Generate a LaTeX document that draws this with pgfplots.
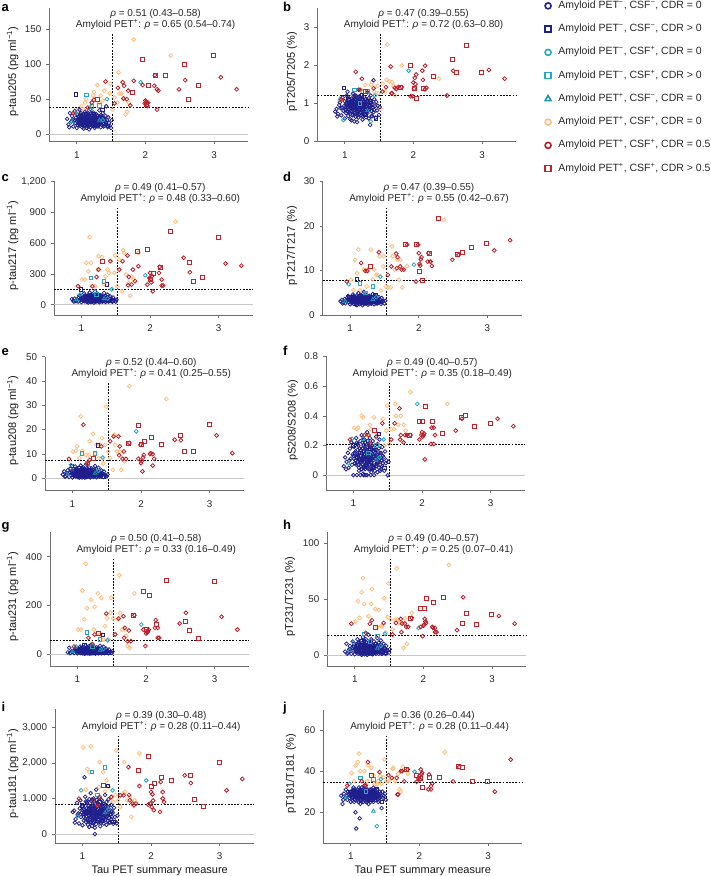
\documentclass[border=0pt]{standalone}
\usepackage{fontspec}
\setmainfont{Liberation Sans}
\usepackage{pgfplots}
\usepackage{pgfplotstable}
\pgfplotsset{compat=1.18}

\definecolor{cnavy}{RGB}{30,30,140}
\definecolor{cteal}{RGB}{40,165,192}
\definecolor{ctri}{RGB}{30,150,180}
\definecolor{cpeach}{RGB}{253,190,128}
\definecolor{credc}{RGB}{180,30,40}
\definecolor{credsq}{RGB}{200,32,40}
\definecolor{caxis}{RGB}{110,110,110}

% G1: Amyloid PET-, CSF-, CDR = 0
\pgfplotstableread{
x a b c d e f g h i j
0.86 22 0.78 55 3.1 1.5 0.06 6 3 620 28
0.88 14 0.85 40 3.4 2.8 0.12 25 10 660 24
0.90 30 0.72 60 2.8 0.8 0.09 4 2 420 29
0.92 18 0.95 35 3.6 1.9 0.15 12 5 880 27
0.93 26 1.02 48 2.6 3.2 0.05 9 8 540 31
0.95 11 0.68 30 3.0 0.5 0.18 3 1 300 26
0.96 20 0.88 70 3.9 2.2 0.11 15 6 720 30
0.97 33 1.15 90 4.3 4.0 0.22 22 12 950 29
0.98 16 0.80 45 2.9 1.2 0.07 7 4 480 27
0.99 24 0.92 58 3.3 2.5 0.14 11 7 610 28
1.00 9 0.60 25 2.4 0.3 0.00 2 0.5 250 25
1.00 19 1.05 52 3.5 1.7 0.13 14 5 680 29
1.01 28 0.83 66 3.8 3.0 0.19 20 9 790 30
1.02 13 0.74 38 2.7 0.9 0.08 6 3 380 26
1.03 22 1.20 75 4.1 2.1 0.16 18 8 1600 31
1.03 17 0.97 44 3.2 1.4 0.10 8 4 560 27
1.04 35 1.30 110 4.6 4.8 0.25 30 14 1050 32
1.05 12 0.66 32 2.5 0.6 0.00 3 1 340 25
1.05 21 0.89 56 3.4 2.0 0.12 13 6 640 28
1.06 25 1.08 62 3.7 2.6 0.17 16 7 720 30
1.07 15 0.76 41 2.9 1.1 0.07 5 2 420 20
1.07 27 0.94 80 3.6 3.5 0.20 24 10 870 29
1.08 10 0.58 28 2.3 0.4 0.03 2 1 260 12
1.08 19 1.00 50 3.3 1.8 0.11 10 5 590 28
1.09 23 0.86 64 3.9 2.4 0.15 17 8 700 27
1.10 8 0.55 22 2.2 0.2 0.00 1 0 200 26
1.10 17 0.91 47 3.1 1.5 0.09 9 4 520 29
1.10 29 1.12 95 4.4 4.2 0.23 28 13 980 31
1.11 14 0.79 36 2.8 0.8 0.06 4 2 400 27
1.11 21 0.98 58 3.5 2.1 0.13 14 6 650 28
1.12 32 1.25 120 4.9 5.2 0.27 35 16 1150 32
1.12 12 0.70 31 2.6 0.7 0.04 3 1 330 25
1.13 18 0.88 53 3.2 1.6 0.10 11 5 560 17
1.13 24 1.04 69 3.8 2.9 0.18 19 9 760 30
1.14 9 0.52 26 2.4 0.3 0.01 2 0.5 230 24
1.14 20 0.93 49 3.4 1.9 0.12 12 6 610 28
1.15 26 1.10 77 4.0 3.3 0.20 21 10 830 29
1.15 15 0.81 40 3.0 1.2 0.00 6 3 450 26
1.16 22 0.96 60 3.6 2.3 0.14 15 7 680 27
1.16 11 0.64 33 2.7 0.6 0.05 3 2 310 28
1.17 28 1.18 88 4.2 3.8 0.22 26 11 920 31
1.17 17 0.84 46 3.1 1.4 0.09 8 4 500 29
1.18 21 0.99 57 3.5 2.0 0.13 13 6 0 27
1.18 13 0.73 37 2.8 0.9 0.06 5 2 380 25
1.19 25 1.06 72 3.9 2.8 0.17 18 8 740 30
1.19 19 0.90 51 3.3 1.7 0.11 10 5 570 28
1.20 36 1.35 130 5.2 5.8 0.29 38 18 1250 33
1.20 10 0.62 29 2.5 0.4 0.00 2 1 280 26
1.21 23 0.95 63 3.7 2.5 0.15 16 7 690 29
1.21 16 0.82 43 3.0 1.3 0.08 7 3 470 27
1.22 20 1.02 55 3.4 1.9 0.12 12 6 620 28
1.22 27 1.14 84 4.1 3.6 0.21 23 11 880 30
1.23 14 0.75 39 2.9 1.0 0.07 5 2 410 26
1.23 18 0.87 48 3.2 1.5 0.10 9 4 540 29
1.24 31 1.22 100 4.5 4.5 0.25 31 14 1020 31
1.24 12 0.68 34 2.6 0.6 0.04 3 1 330 25
1.25 22 0.97 61 3.6 2.2 0.14 15 7 660 28
1.25 17 0.85 45 3.1 1.4 0.00 8 4 500 27
1.26 25 1.09 74 3.9 3.0 0.18 19 9 780 30
1.26 9 0.57 24 2.3 0.3 0.02 1 0.5 220 24
1.27 20 0.93 54 3.4 1.8 0.11 11 5 590 28
1.27 15 0.78 41 2.9 1.1 0.07 6 3 440 26
1.28 29 1.16 92 4.3 4.0 0.23 27 12 950 31
1.28 19 0.90 50 3.3 1.6 0.10 10 5 560 29
1.29 23 1.01 66 3.7 2.6 0.16 17 8 710 30
1.29 13 0.71 35 2.7 0.8 0.05 4 2 360 25
1.30 21 0.96 58 3.5 2.1 0.13 13 6 640 28
1.30 16 0.83 44 3.0 1.2 0.00 7 3 480 27
1.31 26 1.11 79 4.0 3.4 0.20 22 10 850 29
1.31 11 0.63 30 2.5 0.5 0.03 2 1 300 26
1.32 19 0.89 52 3.3 1.7 0.11 11 5 580 28
1.32 24 1.05 68 3.8 2.7 0.17 18 8 730 30
1.33 14 0.74 38 2.8 0.9 0.06 5 2 400 25
1.33 34 1.28 115 4.7 5.0 0.26 33 15 1100 32
1.34 18 0.86 47 3.2 1.5 0.09 9 4 530 28
1.34 22 0.98 60 3.6 2.3 0.14 15 7 670 29
1.35 10 0.60 27 2.4 0.4 0.02 2 1 260 27
1.35 27 1.13 86 4.2 3.7 0.21 24 11 900 31
1.36 17 0.84 45 3.1 1.4 0.09 8 4 510 26
1.36 21 0.94 57 3.5 2.0 0.12 12 6 620 28
1.37 13 0.43 36 2.7 0.8 0.05 4 2 370 29
1.37 25 1.07 73 3.9 2.9 0.18 19 9 770 30
1.38 19 0.91 51 3.3 1.8 0.11 10 5 570 27
1.38 30 1.20 98 4.4 4.3 0.24 29 13 980 31
1.39 15 0.79 42 2.9 1.2 0.07 6 3 450 28
1.40 22 0.99 62 3.6 2.4 0.15 16 7 690 29
1.40 12 0.66 32 2.6 0.6 0.04 3 1 320 25
1.41 18 0.88 49 3.2 1.6 0.10 9 5 550 28
1.42 26 1.60 80 4.0 3.2 0.19 21 10 820 30
1.42 14 0.76 39 2.8 1.0 0.06 5 2 420 27
1.43 40 1.10 60 3.5 2.2 0.13 14 6 640 29
1.44 20 0.92 55 3.4 1.9 0.12 12 6 600 28
1.45 10 0.62 28 2.5 0.5 0.03 2 1 290 22
1.46 24 1.03 70 3.8 2.7 0.16 18 8 740 30
1.47 16 0.81 43 3.0 1.3 0.08 7 3 480 27
1.48 12 0.93 46 3.1 1.0 0.10 8 4 350 28
1.50 9 0.69 30 2.6 0.8 0.00 4 2 300 29
1.51 20 0.90 48 3.2 1.5 0.09 10 5 520 26
1.13 20 0.95 52 3.3 1.7 0.11 11 5 590 28
1.09 18 0.87 46 3.1 1.5 0.09 9 4 520 27
1.19 15 0.80 42 2.9 1.1 0.07 6 3 460 29
1.21 30 1.17 96 4.3 4.1 0.23 28 12 960 31
1.06 22 0.99 58 3.5 2.0 0.13 13 6 630 28
1.16 27 1.08 76 3.9 3.1 0.19 20 9 800 30
1.27 11 0.65 31 2.6 0.6 0.04 3 1 320 26
1.02 16 0.82 44 3.0 1.3 0.08 7 3 480 27
1.24 18 0.89 50 3.3 1.6 0.10 10 5 560 29
1.31 23 1.00 64 3.7 2.5 0.15 16 7 700 30
1.14 30 1.19 94 4.4 4.2 0.24 27 13 970 31
1.18 7 0.50 20 2.2 0.2 0.00 1 0 180 25
1.01 18 0.90 50 3.3 1.6 0.11 10 5 560 28
1.02 25 1.00 65 3.6 2.4 0.15 16 7 700 29
1.04 14 0.78 40 2.9 1.0 0.07 5 3 430 27
1.04 20 0.95 55 3.4 1.9 0.12 12 6 620 30
1.06 30 1.10 85 4.1 3.6 0.21 24 11 900 31
1.06 16 0.84 46 3.1 1.3 0.09 8 4 500 26
1.07 22 0.98 60 3.5 2.2 0.14 14 7 660 28
1.08 13 0.72 36 2.8 0.8 0.05 4 2 380 27
1.09 27 1.05 72 3.8 3.0 0.18 20 9 800 30
1.09 17 0.88 48 3.2 1.5 0.10 9 4 540 29
1.10 21 0.96 57 3.4 2.0 0.13 13 6 640 28
1.11 12 0.68 33 2.7 0.7 0.04 3 1 350 25
1.11 25 1.06 70 3.8 2.8 0.17 18 8 760 30
1.12 18 0.90 50 3.3 1.6 0.10 10 5 570 27
1.12 23 1.00 62 3.6 2.3 0.15 15 7 690 29
1.13 15 0.80 42 3.0 1.1 0.07 6 3 460 28
1.13 29 1.12 90 4.2 3.9 0.22 26 12 930 31
1.14 19 0.92 52 3.3 1.7 0.11 11 5 590 28
1.14 24 1.02 66 3.7 2.6 0.16 17 8 720 30
1.15 13 0.75 37 2.8 0.9 0.06 5 2 410 26
1.15 20 0.94 55 3.4 1.9 0.12 12 6 620 29
1.16 17 0.86 46 3.1 1.4 0.09 8 4 520 27
1.16 31 1.20 100 4.5 4.4 0.24 30 14 1000 32
1.17 22 0.97 59 3.5 2.1 0.14 14 6 650 28
1.17 12 0.70 34 2.6 0.6 0.04 3 1 340 26
1.18 26 1.07 74 3.9 3.0 0.18 19 9 780 30
1.18 18 0.89 49 3.2 1.6 0.10 9 5 550 29
1.19 21 0.98 58 3.5 2.1 0.13 13 6 640 27
1.19 14 0.77 40 2.9 1.0 0.06 5 2 430 28
1.20 24 1.03 68 3.7 2.7 0.16 17 8 740 30
1.20 17 0.87 47 3.2 1.5 0.09 9 4 530 28
1.21 20 0.93 55 3.4 1.8 0.12 12 6 600 29
1.22 12 0.69 33 2.6 0.7 0.04 3 1 350 25
1.22 28 1.11 82 4.1 3.5 0.20 23 10 870 31
1.23 19 0.91 51 3.3 1.7 0.11 10 5 570 28
1.23 23 1.00 63 3.6 2.4 0.15 16 7 700 29
1.24 15 0.80 43 3.0 1.2 0.07 6 3 470 27
1.25 21 0.95 57 3.5 2.0 0.13 13 6 630 28
1.25 26 1.08 76 3.9 3.1 0.19 20 9 810 30
1.26 16 0.84 45 3.1 1.3 0.08 7 3 490 26
1.26 20 0.94 54 3.4 1.9 0.12 12 6 610 29
1.27 24 1.04 69 3.8 2.7 0.17 18 8 750 30
1.28 13 0.74 38 2.8 0.9 0.05 4 2 400 27
1.28 22 0.97 60 3.5 2.2 0.14 14 7 660 28
1.29 18 0.88 49 3.2 1.6 0.10 9 4 550 29
1.30 27 1.10 80 4.0 3.3 0.19 21 10 840 31
1.30 12 0.71 35 2.7 0.7 0.05 4 2 370 26
1.31 19 0.90 52 3.3 1.7 0.11 11 5 580 28
1.32 15 0.79 42 3.0 1.1 0.07 6 3 450 27
1.33 21 0.96 58 3.5 2.0 0.13 13 6 640 29
1.34 25 1.06 71 3.8 2.8 0.17 18 8 760 30
1.35 16 0.83 44 3.0 1.3 0.08 7 3 480 28
1.36 20 0.93 55 3.4 1.9 0.12 12 6 610 27
1.38 23 1.01 64 3.7 2.5 0.15 16 7 710 29
1.39 11 0.66 31 2.6 0.6 0.03 3 1 330 26
1.41 19 0.89 50 3.2 1.6 0.10 9 5 560 28
1.43 16 0.82 44 3.0 1.3 0.08 7 3 480 27
1.05 28 1.15 88 4.2 3.8 0.22 25 11 920 31
0.94 21 0.87 52 3.3 1.7 0.10 10 5 580 28
0.89 10 0.65 30 2.6 0.6 0.04 3 1 320 26
}\Gone

% G2: Amyloid PET-, CSF-, CDR > 0
\pgfplotstableread{
x a b c d e f g h i j
0.99 57 1.40 150 4.0 5.0 0.20 20 10 800 30
1.10 25 1.00 80 8.0 4.0 0.15 35 12 700 28
1.37 35 1.05 200 4.5 13.5 0.28 78 8 1350 31
1.20 20 0.90 60 3.5 2.0 0.10 10 4 500 27
1.30 15 0.70 50 3.0 1.5 0.08 8 3 450 26
1.05 22 1.10 70 3.8 3.0 0.12 12 6 600 29
1.45 12 0.60 40 3.0 0.5 0.05 5 2 350 25
1.25 28 1.20 90 4.2 3.5 0.18 18 7 900 30
}\Gtwo

% G3: Amyloid PET-, CSF+, CDR = 0
\pgfplotstableread{
x a b c d e f g h i j
1.93 74 1.85 287 11.3 19.3 0.48 121 24.2 1509 39.7
0.98 30 0.56 100 6.9 5.5 0.245 30 11.0 1230 33.8
1.44 50 1.20 150 8.6 8.5 0.24 56 19.0 1230 36.0
1.38 20 0.52 60 4.0 3.0 0.12 20 8.0 700 13.2
}\Gthree

% G4: Amyloid PET-, CSF+, CDR > 0
\pgfplotstableread{
x a b c d e f g h i j
1.14 56 1.35 261 7.1 10.2 0.245 89 19.0 1742 36.7
1.33 41 1.30 228 6.4 10.3 0.20 60 17.0 1880 36.0
1.22 40 1.00 100 5.0 6.0 0.15 30 12.0 1100 30.0
}\Gfour

% G5: Amyloid PET+, CSF-, CDR = 0
\pgfplotstableread{
x a b c d e f g h i j
1.33 20 0.80 60 3.5 2.0 0.10 15 6.0 600 20.5
0.93 18 1.11 50 3.0 1.5 0.08 10 4.0 500 27.0
}\Gfive

% G6: Amyloid PET+, CSF+, CDR = 0
\pgfplotstableread{
x a b c d e f g h i j
1.83 135 1.99 505 10.9 37.9 0.56 249 37.7 2273 38.7
2.37 112 1.64 809 21.4 32.6 0.48 nan 80.8 nan 49.3
1.61 88 1.61 532 15.4 17.9 0.48 324 77.8 2022 41.1
1.12 45 1.20 659 14.7 25.5 0.40 371 68.9 2469 48.5
1.49 72 1.26 480 13.2 29.5 0.47 231 64.1 2348 45.7
1.62 58 2.54 505 13.2 13.8 0.40 169 31.7 1183 41.6
1.30 70 1.48 466 14.7 18.2 0.39 249 41.3 1742 41.6
1.25 60 1.05 473 10.2 15.2 0.31 194 59.0 2022 42.8
1.07 40 0.95 408 12.4 13.1 0.32 261 33.2 1835 42.8
1.43 40 1.30 424 13.2 16.5 0.38 146 50.9 1044 37.6
1.35 55 1.09 277 10.2 13.8 0.28 231 40.4 1509 33.5
1.55 52 1.51 440 6.2 8.3 0.31 80 22.8 764 35.1
1.65 58 1.57 294 10.2 11.0 0.34 100 28.7 950 35.1
1.71 28 1.45 88 7.9 3.4 0.23 73 6.3 484 31.1
1.73 32 1.20 277 12.4 8.3 0.34 32 32.6 904 29.9
1.20 40 1.10 180 10.2 9.6 0.27 223 34.7 950 40.0
1.52 35 0.85 180 6.4 11.0 0.21 146 31.7 950 35.1
1.38 48 1.48 342 9.0 8.3 0.08 59 25.7 1323 33.5
1.10 35 1.00 326 9.4 8.3 0.21 142 56.3 1742 44.4
1.05 30 0.80 245 5.6 11.3 0.31 100 48.2 1249 35.1
1.76 45 1.40 245 6.2 6.9 0.30 25 9.9 950 42.1
1.40 62 1.55 310 9.0 13.8 0.14 114 25.7 950 35.1
1.59 45 1.30 130 6.2 3.4 0.31 142 31.7 1137 36.4
1.24 55 1.35 342 6.4 9.6 0.34 100 45.8 1323 35.1
1.14 50 1.20 408 5.6 11.3 0.39 188 45.8 1742 40.0
1.69 50 1.55 212 12.4 11.0 0.40 100 28.7 1044 38.7
1.48 58 1.45 310 10.9 13.8 0.30 169 34.0 1100 37.0
1.33 45 1.30 200 8.0 10.0 0.25 80 25.0 1200 38.0
1.01 35 1.10 245 7.9 11.0 0.32 100 30.0 2441 39.0
1.45 25 0.95 150 5.5 6.0 0.20 60 20.0 900 34.0
}\Gsix

% G7: Amyloid PET+, CSF+, CDR = 0.5
\pgfplotstableread{
x a b c d e f g h i j
3.10 81 1.87 401 14.5 17.6 0.38 153 35.0 1230 30.0
3.33 64 1.64 380 16.8 10.3 0.33 100 28.0 1550 45.6
2.49 64 1.20 457 12.4 15.8 0.30 125 22.2 1649 35.0
2.58 77 1.85 316 13.5 15.6 0.38 169 51.8 1435 42.0
2.14 84 1.61 369 13.9 10.3 0.32 139 24.3 1463 38.4
2.13 69 1.85 310 12.0 9.9 0.21 107 25.1 624 31.1
2.17 64 1.98 245 12.0 5.2 0.32 66 20.4 1183 32.7
2.19 62 1.40 186 11.0 8.0 0.27 66 20.4 900 34.0
2.00 48 1.54 310 13.9 6.2 0.29 84 26.3 1183 37.6
1.99 44 1.18 261 15.8 13.8 0.27 32 16.8 857 36.4
2.02 41 1.66 218 11.1 2.8 0.27 89 32.3 1118 40.8
2.04 45 1.75 130 13.0 9.6 0.106 100 28.7 671 39.2
2.17 35 1.36 186 12.0 9.9 0.21 107 24.3 1000 31.1
1.96 70 1.18 196 7.5 8.0 0.24 100 25.1 829 34.8
1.83 76 1.42 375 15.8 14.5 0.27 159 33.2 1350 40.8
1.67 74 1.96 479 13.8 17.2 0.45 155 32.3 1882 36.7
1.69 69 1.26 271 13.0 13.1 0.27 107 28.1 950 28.6
1.75 62 1.37 342 10.2 11.0 0.27 96 25.1 810 40.0
1.68 51 1.26 189 10.5 9.4 0.24 66 20.4 1100 28.6
1.73 50 1.40 196 10.9 7.9 0.22 52 28.1 857 40.0
1.78 41 1.42 230 10.2 7.9 0.27 52 25.1 857 35.0
1.60 66 1.42 424 10.9 17.2 0.35 146 28.7 1090 36.7
1.42 75 1.39 424 14.1 13.1 0.35 166 28.7 1044 39.5
1.55 44 1.30 342 9.0 15.2 0.24 80 18.3 1090 38.0
1.25 49 1.64 342 9.9 7.5 0.21 80 31.1 1044 44.4
1.16 38 1.82 180 11.7 22.0 0.27 66 19.8 950 35.1
0.95 30 1.10 180 7.5 7.9 0.24 30 28.1 997 33.0
1.22 45 1.35 270 9.9 6.0 0.27 40 28.0 800 33.0
2.01 46 1.38 250 11.5 7.0 0.26 90 27.0 760 36.0
2.03 40 1.50 280 12.5 8.5 0.28 95 30.0 940 38.5
}\Gseven

% G8: Amyloid PET+, CSF+, CDR > 0.5
\pgfplotstableread{
x a b c d e f g h i j
1.96 107 1.99 538 15.8 21.8 0.36 258 41.3 2190 37.9
2.29 84 1.70 711 21.6 14.0 0.28 304 51.8 1509 37.0
2.57 99 2.14 408 13.5 17.6 0.39 135 28.1 1649 42.1
2.63 50 1.81 228 14.0 11.0 0.40 96 36.8 969 42.0
2.77 70 2.52 267 15.2 11.0 0.33 63 27.2 783 35.1
2.99 112 1.81 652 16.0 22.3 0.35 300 36.0 2003 35.0
2.05 70 1.11 300 7.7 15.2 0.46 242 50.6 1416 31.9
2.15 84 1.39 360 13.9 16.8 0.36 120 47.3 1584 36.7
1.81 60 1.40 522 15.8 14.5 0.27 160 33.0 1800 40.8
2.01 42 1.39 250 9.8 13.8 0.36 100 41.3 1342 36.4
1.30 49 1.30 420 11.0 8.0 0.30 85 25.0 1380 38.0
}\Geight

\tikzset{dashln/.style={black, line width=0.65bp, dash pattern=on 1.8bp off 1.4bp}}
\pgfplotsset{
  panel/.style={
    scale only axis, width=199bp, height=133.5bp,
    anchor=south west,
    xmin=0.6, xmax=3.5, xtick={1,2,3},
    axis x line*=bottom, axis y line*=left,
    axis line style={-, caxis, line width=0.6bp},
    major tick style={caxis, line width=0.6bp},
    tick align=outside, major tick length=3bp,
    scaled ticks=false,
    /pgf/number format/assume math mode=true,
    /pgf/number format/1000 sep={,},
    tick label style={font=\fontsize{9.8bp}{11bp}\selectfont, text=black!85},
    xticklabel style={yshift=-3.5bp},
    yticklabel style={xshift=-1.5bp},
    label style={font=\fontsize{11bp}{13bp}\selectfont, text=black!90},
    clip=false,
  },
  ylab/.style={ylabel style={at={(axis description cs:#1,0.52)}, anchor=center}},
  mk/.style={only marks, forget plot},
  gnavyo/.style={mk, mark=o, mark size=1.85bp, draw=cnavy, mark options={draw=cnavy, line width=0.75bp}},
  gnavys/.style={mk, mark=square, mark size=1.75bp, draw=cnavy, mark options={draw=cnavy, line width=0.75bp}},
  gtealo/.style={mk, mark=o, mark size=1.9bp, draw=cteal, mark options={draw=cteal, line width=0.8bp}},
  gteals/.style={mk, mark=square, mark size=1.8bp, draw=cteal, mark options={draw=cteal, line width=0.8bp}},
  gtri/.style={mk, mark=triangle, mark size=2.1bp, draw=ctri, mark options={draw=ctri, line width=0.8bp}},
  gpeach/.style={mk, mark=o, mark size=1.95bp, draw=cpeach, mark options={draw=cpeach, line width=0.8bp}},
  gredo/.style={mk, mark=o, mark size=1.95bp, draw=credc, mark options={draw=credc, line width=0.8bp}},
  greds/.style={mk, mark=square, mark size=2.0bp, draw=credsq, mark options={draw=credsq, line width=0.9bp}},
}

\newcommand\allgroups[1]{%
  \addplot[gpeach] table[x=x,y=#1]{\Gsix};
  \addplot[gnavyo] table[x=x,y=#1]{\Gone};
  \addplot[gnavys] table[x=x,y=#1]{\Gtwo};
  \addplot[gtealo] table[x=x,y=#1]{\Gthree};
  \addplot[gteals] table[x=x,y=#1]{\Gfour};
  \addplot[gtri] table[x=x,y=#1]{\Gfive};
  \addplot[gredo] table[x=x,y=#1]{\Gseven};
  \addplot[greds] table[x=x,y=#1]{\Geight};
}
\newcommand\zeroline{\draw[black!22, line width=0.6bp] (axis cs:0.6,0) -- (axis cs:3.5,0);}
\newcommand\deco[3]{%
  \draw[dashln] (axis cs:0.6,#1) -- (axis cs:3.5,#1);
  \draw[dashln] (rel axis cs:0.31724,0) -- (rel axis cs:0.31724,0.80);
  \node[font=\fontsize{10bp}{11bp}\selectfont, text=black!85, inner sep=0pt] at (rel axis cs:0.534,0.955) {{\itshape ρ} = #2};
  \node[font=\fontsize{10bp}{11bp}\selectfont, text=black!85, inner sep=0pt] at (rel axis cs:0.534,0.873) {Amyloid PET\textsuperscript{+}: {\itshape ρ} = #3};
}
\newcommand\plet[3]{\node[anchor=base west, inner sep=0pt, font=\bfseries\fontsize{13bp}{13bp}\selectfont] at (#1bp,#2bp) {#3};}

\begin{document}
\begin{tikzpicture}[x=1bp,y=1bp]
\useasboundingbox (0,0) rectangle (711,876);

% a
\begin{axis}[panel, at={(49.3bp,734.7bp)}, ymin=-10, ymax=180, ytick={0,50,100,150},
  ylabel={p-tau205 (pg ml\textsuperscript{−1})}, ylab=-0.184]
\zeroline
\allgroups{a}
\deco{38}{0.51 (0.43–0.58)}{0.65 (0.54–0.74)}
\end{axis}

% b
\begin{axis}[panel, at={(317.3bp,734.7bp)}, ymin=0, ymax=3.5, ytick={0,1,2,3},
  ylabel={pT205/T205 (\%)}, ylab=-0.127,
  legend style={draw=none, fill=none, inner sep=0pt, at={(1.1276,1.0532)}, anchor=north west,
    font=\fontsize{10.5bp}{12bp}\selectfont, row sep=13.25bp, column sep=4bp,
    nodes={inner sep=0pt, text height=7.5bp, text depth=2.5bp, text=black!85}},
  legend cell align=left,
  legend image code/.code={\path (0bp,0bp) (12bp,0bp); \draw[#1] plot coordinates {(6bp,0bp)};}]
\allgroups{b}
\deco{1.2}{0.47 (0.39–0.55)}{0.72 (0.63–0.80)}
\addlegendimage{only marks, mark=o, mark size=3bp, mark options={draw=cnavy, line width=1.6bp}}
\addlegendentry{Amyloid PET\textsuperscript{−}, CSF\textsuperscript{−}, CDR = 0}
\addlegendimage{only marks, mark=square, mark size=3bp, mark options={draw=cnavy, line width=1.6bp}}
\addlegendentry{Amyloid PET\textsuperscript{−}, CSF\textsuperscript{−}, CDR > 0}
\addlegendimage{only marks, mark=o, mark size=3bp, mark options={draw=cteal, line width=1.6bp}}
\addlegendentry{Amyloid PET\textsuperscript{−}, CSF\textsuperscript{+}, CDR = 0}
\addlegendimage{only marks, mark=square, mark size=3bp, mark options={draw=cteal, line width=1.6bp}}
\addlegendentry{Amyloid PET\textsuperscript{−}, CSF\textsuperscript{+}, CDR > 0}
\addlegendimage{only marks, mark=triangle, mark size=3.4bp, mark options={draw=ctri, line width=1.6bp}}
\addlegendentry{Amyloid PET\textsuperscript{+}, CSF\textsuperscript{−}, CDR = 0}
\addlegendimage{only marks, mark=o, mark size=3bp, mark options={draw=cpeach, line width=1.6bp}}
\addlegendentry{Amyloid PET\textsuperscript{+}, CSF\textsuperscript{+}, CDR = 0}
\addlegendimage{only marks, mark=o, mark size=3bp, mark options={draw=credc, line width=1.6bp}}
\addlegendentry{Amyloid PET\textsuperscript{+}, CSF\textsuperscript{+}, CDR = 0.5}
\addlegendimage{only marks, mark=square, mark size=3bp, mark options={draw=credsq, line width=1.6bp}}
\addlegendentry{Amyloid PET\textsuperscript{+}, CSF\textsuperscript{+}, CDR > 0.5}
\end{axis}

% c
\begin{axis}[panel, at={(54bp,561bp)}, ymin=-100, ymax=1200, ytick={0,300,600,900,1200},
  ylabel={p-tau217 (pg ml\textsuperscript{−1})}, ylab=-0.2075]
\zeroline
\allgroups{c}
\deco{150}{0.49 (0.41–0.57)}{0.48 (0.33–0.60)}
\end{axis}

% d
\begin{axis}[panel, at={(322.7bp,561bp)}, ymin=0, ymax=30, ytick={0,10,20,30},
  ylabel={pT217/T217 (\%)}, ylab=-0.154]
\allgroups{d}
\deco{7.7}{0.47 (0.39–0.55)}{0.55 (0.42–0.67)}
\end{axis}

% e
\begin{axis}[panel, at={(45bp,385.7bp)}, ymin=-5, ymax=50, ytick={0,10,20,30,40,50},
  ylabel={p-tau208 (pg ml\textsuperscript{−1})}, ylab=-0.162]
\zeroline
\allgroups{e}
\deco{7.2}{0.52 (0.44–0.60)}{0.41 (0.25–0.55)}
\end{axis}

% f
\begin{axis}[panel, at={(326bp,386bp)}, ymin=-0.1, ymax=0.8, ytick={0,0.2,0.4,0.6,0.8},
  yticklabel style={/pgf/number format/fixed, /pgf/number format/precision=1},
  ylabel={pS208/S208 (\%)}, ylab=-0.167]
\zeroline
\allgroups{f}
\deco{0.21}{0.49 (0.40–0.57)}{0.35 (0.18–0.49)}
\end{axis}

% g
\begin{axis}[panel, at={(50bp,210bp)}, ymin=-50, ymax=500, ytick={0,200,400},
  ylabel={p-tau231 (pg ml\textsuperscript{−1})}, ylab=-0.1874]
\zeroline
\allgroups{g}
\deco{55}{0.50 (0.41–0.58)}{0.33 (0.16–0.49)}
\end{axis}

% h
\begin{axis}[panel, at={(327.3bp,210bp)}, ymin=-10, ymax=110, ytick={0,50,100},
  ylabel={pT231/T231 (\%)}, ylab=-0.187]
\zeroline
\allgroups{h}
\deco{17.3}{0.49 (0.40–0.57)}{0.25 (0.07–0.41)}
\end{axis}

% i
\begin{axis}[panel, at={(55bp,33bp)}, ymin=-250, ymax=3500, ytick={0,1000,2000,3000},
  ylabel={p-tau181 (pg ml\textsuperscript{−1})}, ylab=-0.2126,
  xlabel={Tau PET summary measure}, xlabel style={at={(axis description cs:0.526,-0.205)}, anchor=center}]
\zeroline
\allgroups{i}
\deco{830}{0.39 (0.30–0.48)}{0.28 (0.11–0.44)}
\end{axis}

% j
\begin{axis}[panel, at={(323.3bp,33bp)}, ymin=5, ymax=70, ytick={20,40,60},
  ylabel={pT181/T181 (\%)}, ylab=-0.162,
  xlabel={Tau PET summary measure}, xlabel style={at={(axis description cs:0.5,-0.205)}, anchor=center}]
\allgroups{j}
\deco{34.6}{0.36 (0.26–0.44)}{0.28 (0.11–0.44)}
\end{axis}

\plet{1.5}{864.5}{a}
\plet{283}{864.5}{b}
\plet{1.5}{694}{c}
\plet{283}{694}{d}
\plet{1.5}{520}{e}
\plet{283}{520}{f}
\plet{1.5}{346}{g}
\plet{283}{346}{h}
\plet{1.5}{164.5}{i}
\plet{283}{164.5}{j}
\end{tikzpicture}
\end{document}
